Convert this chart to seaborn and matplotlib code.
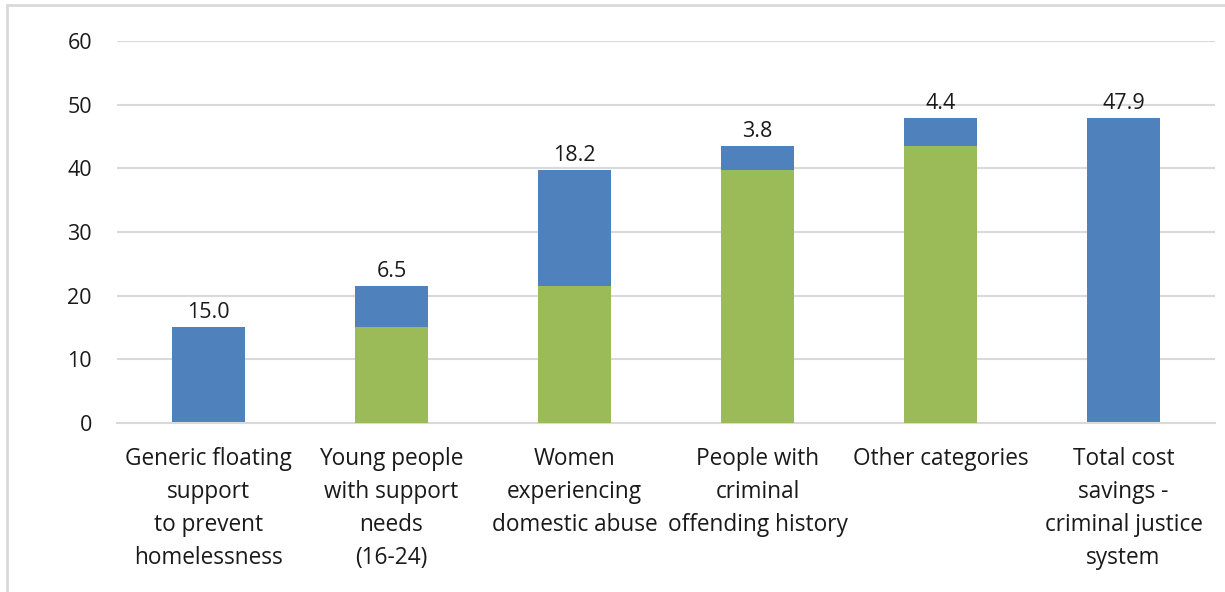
import matplotlib
matplotlib.use('Agg')
import matplotlib.pyplot as plt
import seaborn as sns
from matplotlib.lines import Line2D

categories = [
    'Generic floating\nsupport\nto prevent\nhomelessness',
    'Young people\nwith support\nneeds\n(16-24)',
    'Women\nexperiencing\ndomestic abuse',
    'People with\ncriminal\noffending history',
    'Other categories',
    'Total cost\nsavings -\ncriminal justice\nsystem',
]
# visible step of each bar (label values)
values = [15.0, 6.5, 18.2, 3.8, 4.4, 47.9]
# green base under each step (running total before the step)
bases = [0.0, 15.0, 21.5, 39.7, 43.5, 0.0]
tops = [b + v for b, v in zip(bases, values)]

sns.set_theme(style='white')
plt.rcParams['font.family'] = ['Open Sans', 'DejaVu Sans']

blue = '#4F81BD'
green = '#9BBB59'
grid = '#D9D9D9'
txt = '#1a1a1a'

fig = plt.figure(figsize=(12.25, 5.92), dpi=100)
ax = fig.add_axes([0.0955, 0.2855, 0.8963, 0.6452])

sns.barplot(x=categories, y=tops, color=blue, width=0.4, saturation=1,
            linewidth=0, ax=ax, zorder=2)
sns.barplot(x=categories, y=bases, color=green, width=0.4, saturation=1,
            linewidth=0, ax=ax, zorder=3)

for i, (t, v) in enumerate(zip(tops, values)):
    ax.annotate(f'{v:.1f}', (i, t), xytext=(0, 3), textcoords='offset points',
                ha='center', va='bottom', fontsize=15.5, color=txt)

ax.set_ylim(0, 60)
ax.set_xlim(-0.5, 5.5)
ax.set_yticks(range(0, 61, 10))
ax.yaxis.grid(True, color=grid, linewidth=1.5, zorder=0)
ax.set_axisbelow(True)
for s in ['top', 'right', 'left']:
    ax.spines[s].set_visible(False)
ax.spines['bottom'].set_color(grid)
ax.spines['bottom'].set_linewidth(1.5)
ax.tick_params(axis='y', length=0, pad=18, labelsize=15.5, labelcolor=txt)
ax.tick_params(axis='x', length=0, pad=17, labelsize=16.3, labelcolor=txt)
for lab in ax.get_xticklabels():
    lab.set_linespacing(1.5)
ax.set_xlabel('')
ax.set_ylabel('')

# chart frame: only top and left edges are visible
fig.add_artist(Line2D([0.0057, 1.0], [0.9916, 0.9916], transform=fig.transFigure,
                      color=grid, linewidth=2))
fig.add_artist(Line2D([0.0057, 0.0057], [0.0, 0.9916], transform=fig.transFigure,
                      color=grid, linewidth=2))

fig.savefig('out.png', dpi=100)
